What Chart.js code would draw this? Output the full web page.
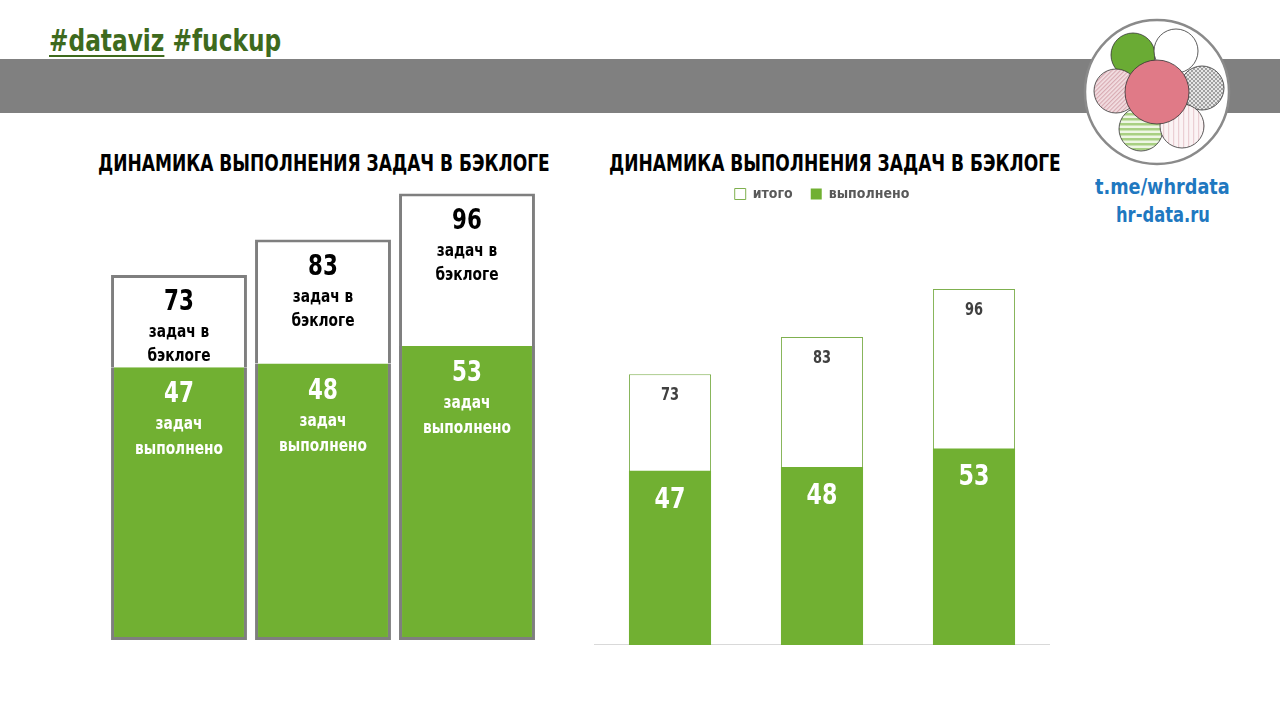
<!DOCTYPE html>
<html><head><meta charset="utf-8">
<script src="https://cdn.jsdelivr.net/npm/chart.js@4"></script>
<style>
html,body{margin:0;padding:0;}
body{width:1280px;height:720px;position:relative;background:#fff;overflow:hidden;font-family:"DejaVu Sans Condensed","DejaVu Sans",sans-serif;}
.band{position:absolute;left:0;top:59px;width:1280px;height:54px;background:#808080;}
.t{position:absolute;white-space:nowrap;font-weight:bold;transform-origin:0 0;line-height:1;}
#tag{left:49px;top:25px;font-size:31px;color:#3e6a1d;}
#tag u{text-decoration:underline;text-decoration-thickness:2px;text-underline-offset:4px;}
.title{font-size:23px;color:#000;top:150px;}
.blue{font-size:22px;color:#1f78c0;}
#logo{position:absolute;left:1083px;top:18px;}
canvas{position:absolute;}
</style></head>
<body>
<div class="band"></div>
<div id="tag" class="t"><u>#dataviz</u> #fuckup</div>
<svg id="logo" width="148" height="148" viewBox="0 0 148 148">
<defs>
<pattern id="pDiag" width="3" height="3" patternUnits="userSpaceOnUse" patternTransform="rotate(45)"><rect width="3" height="3" fill="#f3e0e3"/><rect width="1.2" height="3" fill="#d8aab2"/></pattern>
<pattern id="pChk" width="4" height="4" patternUnits="userSpaceOnUse"><rect width="4" height="4" fill="#e6e6e6"/><rect width="2" height="2" fill="#a0a0a0"/><rect x="2" y="2" width="2" height="2" fill="#a0a0a0"/></pattern>
<pattern id="pHor" width="5" height="5" patternUnits="userSpaceOnUse"><rect width="5" height="5" fill="#eef6e4"/><rect width="5" height="2.5" fill="#a9d083"/></pattern>
<pattern id="pVer" width="5" height="5" patternUnits="userSpaceOnUse"><rect width="5" height="5" fill="#fbf3f4"/><rect width="1.2" height="5" fill="#ebcfd4"/></pattern>
</defs>
<circle cx="74" cy="74" r="72" fill="#fff" stroke="#8a8a8a" stroke-width="2.5"/>
<circle cx="50" cy="37" r="22" fill="#6aab34" stroke="#333" stroke-width="0.8"/>
<circle cx="93" cy="33" r="22" fill="#fff" stroke="#333" stroke-width="0.8"/>
<circle cx="33" cy="73" r="22" fill="url(#pDiag)" stroke="#333" stroke-width="0.8"/>
<circle cx="119" cy="70" r="22" fill="url(#pChk)" stroke="#333" stroke-width="0.8"/>
<circle cx="58" cy="111" r="22" fill="url(#pHor)" stroke="#333" stroke-width="0.8"/>
<circle cx="99" cy="108" r="22" fill="url(#pVer)" stroke="#333" stroke-width="0.8"/>
<circle cx="74" cy="74" r="32" fill="#e07a87" stroke="#333" stroke-width="0.8"/>
</svg>
<div id="blue1" class="t blue">t.me/whrdata</div>
<div id="blue2" class="t blue">hr-data.ru</div>
<div id="title1" class="t title">ДИНАМИКА ВЫПОЛНЕНИЯ ЗАДАЧ В БЭКЛОГЕ</div>
<div id="title2" class="t title">ДИНАМИКА ВЫПОЛНЕНИЯ ЗАДАЧ В БЭКЛОГЕ</div>
<canvas id="c1" width="432" height="450" style="left:107px;top:190px;width:432px;height:450px"></canvas>
<canvas id="c2" width="456" height="476" style="left:594px;top:169px;width:456px;height:476px"></canvas>
<script>
// ---- data ----
const categories = ['1', '2', '3'];
const totals = [73, 83, 96];
const done = [47, 48, 53];
const seriesNames = ['итого', 'выполнено'];
const backlogText = ['задач в', 'бэклоге'];
const doneText = ['задач', 'выполнено'];
const remaining = totals.map((t, i) => t - done[i]);

const FONT = '"DejaVu Sans Condensed","DejaVu Sans",sans-serif';
const GREEN = '#71b032';

// fit text blocks to reference widths
function place(id, left, top, w, center) {
  const el = document.getElementById(id);
  const nat = el.offsetWidth;
  const s = w / nat;
  el.style.transform = 'scaleX(' + s + ')';
  el.style.left = (center ? left - w / 2 : left) + 'px';
  el.style.top = top + 'px';
}
place('tag', 49, 25, 232, false);
place('title1', 324, 152, 452, true);
place('title2', 835, 152, 452, true);
place('blue1', 1162, 176, 135, true);
place('blue2', 1163, 204, 94, true);

function condText(ctx, txt, x, y, sx) {
  ctx.save(); ctx.translate(x, y); ctx.scale(sx, 1); ctx.fillText(txt, 0, 0); ctx.restore();
}

// ---- left (misleading) chart ----
const leftLabels = {
  id: 'leftLabels',
  afterDatasetsDraw(chart) {
    const ctx = chart.ctx;
    const mDone = chart.getDatasetMeta(0), mRest = chart.getDatasetMeta(1);
    ctx.save();
    ctx.textAlign = 'center'; ctx.textBaseline = 'alphabetic';
    categories.forEach((c, i) => {
      const w = mRest.data[i], g = mDone.data[i];
      ctx.fillStyle = '#000';
      ctx.font = 'bold 28px ' + FONT;
      condText(ctx, String(totals[i]), w.x, w.y + 35, 0.85);
      ctx.font = 'bold 18px ' + FONT;
      condText(ctx, backlogText[0], w.x, w.y + 62, 0.85);
      condText(ctx, backlogText[1], w.x, w.y + 86, 0.85);
      ctx.fillStyle = '#fff';
      ctx.font = 'bold 28px ' + FONT;
      condText(ctx, String(done[i]), g.x, g.y + 35, 0.85);
      ctx.font = 'bold 18px ' + FONT;
      condText(ctx, doneText[0], g.x, g.y + 62, 0.85);
      condText(ctx, doneText[1], g.x, g.y + 87, 0.85);
    });
    ctx.restore();
  }
};

new Chart(document.getElementById('c1'), {
  type: 'bar',
  data: {
    labels: categories,
    datasets: [
      { label: seriesNames[1], data: done, base: -30, backgroundColor: GREEN, borderColor: '#7f7f7f', borderWidth: 3, borderSkipped: 'top' },
      { label: seriesNames[0], data: remaining, backgroundColor: '#fff', borderColor: '#7f7f7f', borderWidth: 3, borderSkipped: 'bottom' }
    ]
  },
  options: {
    responsive: false, animation: false,
    layout: { padding: 0 },
    datasets: { bar: { barPercentage: 0.944, categoryPercentage: 1 } },
    plugins: { legend: { display: false }, tooltip: { enabled: false } },
    scales: {
      x: { stacked: true, display: false },
      y: { stacked: true, display: false, min: -30, max: 97 }
    }
  },
  plugins: [leftLabels]
});

// ---- right (correct) chart ----
const rightLabels = {
  id: 'rightLabels',
  beforeDatasetsDraw(chart) {
    const ctx = chart.ctx, a = chart.chartArea;
    const y0 = Math.round(chart.scales.y.getPixelForValue(0)) - 0.5;
    ctx.save(); ctx.strokeStyle = '#d9d9d9'; ctx.lineWidth = 1;
    ctx.beginPath(); ctx.moveTo(a.left - 1, y0); ctx.lineTo(a.right + 2, y0); ctx.stroke();
    ctx.restore();
  },
  afterDatasetsDraw(chart) {
    const ctx = chart.ctx;
    const mTot = chart.getDatasetMeta(0), mDone = chart.getDatasetMeta(1);
    ctx.save(); ctx.textAlign = 'center'; ctx.textBaseline = 'alphabetic';
    categories.forEach((c, i) => {
      const t = mTot.data[i], d = mDone.data[i];
      ctx.fillStyle = '#404040'; ctx.font = 'bold 17px ' + FONT;
      condText(ctx, String(totals[i]), t.x, t.y + 26, 0.85);
      ctx.fillStyle = '#fff'; ctx.font = 'bold 29px ' + FONT;
      condText(ctx, String(done[i]), d.x, d.y + 37, 0.85);
    });
    ctx.restore();
  }
};

new Chart(document.getElementById('c2'), {
  type: 'bar',
  data: {
    labels: categories,
    datasets: [
      { label: seriesNames[0], data: totals, backgroundColor: '#fff', borderColor: '#7fb04f', borderWidth: 1, grouped: false, order: 2 },
      { label: seriesNames[1], data: done, backgroundColor: GREEN, borderColor: GREEN, borderWidth: 0, grouped: false, order: 1 }
    ]
  },
  options: {
    responsive: false, animation: false,
    layout: { padding: { top: 0, bottom: 0, left: 0, right: 0 } },
    datasets: { bar: { barPercentage: 0.54, categoryPercentage: 1 } },
    plugins: {
      tooltip: { enabled: false },
      legend: {
        display: true, position: 'top',
        labels: {
          boxWidth: 11, boxHeight: 11, padding: 18, color: '#595959',
          font: { family: FONT, size: 14, weight: 'bold' },
          sort: (a, b) => a.datasetIndex - b.datasetIndex
        }
      }
    },
    scales: {
      x: { display: false },
      y: { display: false, min: 0, max: 117 }
    }
  },
  plugins: [rightLabels]
});
</script>
</body></html>
